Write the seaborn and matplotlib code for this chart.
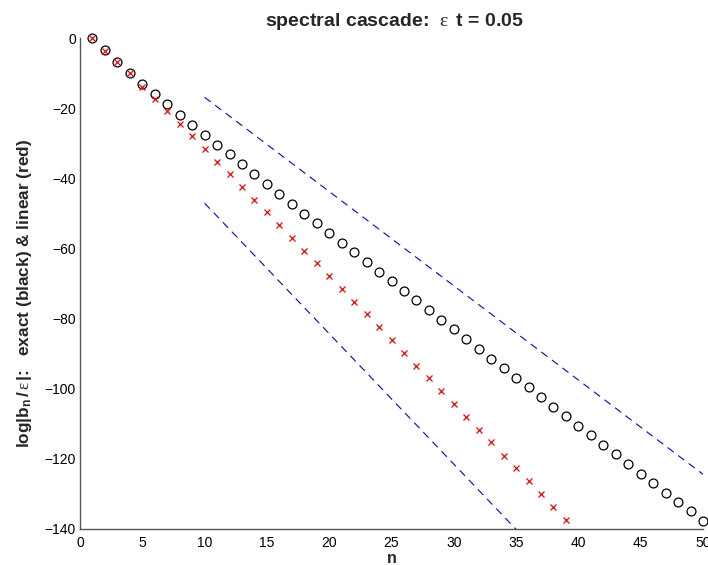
import numpy as np
import pandas as pd
import matplotlib
matplotlib.use("Agg")
import matplotlib.pyplot as plt
import seaborn as sns

# ---- data ----
n_exact = list(range(1, 51))
exact = [0.0, -3.5, -6.9, -10.1, -13.1, -16.1, -18.9, -21.9, -24.8, -27.6,
         -30.5, -33.2, -36.0, -38.8, -41.6, -44.5, -47.2, -50.1, -52.8, -55.6,
         -58.4, -61.1, -63.9, -66.6, -69.4, -72.1, -74.8, -77.6, -80.4, -83.1,
         -85.9, -88.7, -91.4, -94.1, -96.9, -99.6, -102.3, -105.1, -107.8, -110.5,
         -113.2, -116.0, -118.6, -121.5, -124.2, -127.0, -129.6, -132.3, -135.0, -137.7]

n_linear = list(range(1, 40))
linear = [0.0, -3.6, -6.9, -10.1, -13.9, -17.5, -20.9, -24.5, -28.0, -31.7,
          -35.4, -38.8, -42.5, -46.1, -49.7, -53.4, -56.9, -60.6, -64.2, -67.8,
          -71.6, -75.2, -78.8, -82.5, -86.1, -89.8, -93.4, -97.0, -100.7, -104.4,
          -108.1, -111.7, -115.3, -119.1, -122.7, -126.3, -130.0, -133.6, -137.3]

bound_n = [10, 50]
upper_bound = [-16.9, -124.4]
lower_bound = [-47.1, -195.9]

x_ticks = [0, 5, 10, 15, 20, 25, 30, 35, 40, 45, 50]
y_ticks = [0, -20, -40, -60, -80, -100, -120, -140]

# ---- style ----
sns.set_style("white")
plt.rcParams["font.family"] = ["Liberation Sans", "DejaVu Sans"]
plt.rcParams["mathtext.fontset"] = "custom"
plt.rcParams["mathtext.rm"] = "Liberation Serif"
plt.rcParams["mathtext.bf"] = "Liberation Sans:bold"
plt.rcParams["mathtext.it"] = "Liberation Serif:italic"
plt.rcParams["axes.unicode_minus"] = True
plt.rcParams["lines.scale_dashes"] = False

fig = plt.figure(figsize=(7.08, 5.65), dpi=100)
ax = fig.add_axes([80 / 708, 1 - 529 / 565, 623 / 708, (529 - 38) / 565])

sns.lineplot(x=bound_n, y=upper_bound, ax=ax, color="#0000ff", linewidth=0.8,
             linestyle="--")
sns.lineplot(x=bound_n, y=lower_bound, ax=ax, color="#0000ff", linewidth=0.8,
             linestyle="--")
for ln in ax.lines:
    ln.set_dashes([5.5, 4.0])

sns.lineplot(x=n_exact, y=exact, ax=ax, linestyle="", marker="o",
             markersize=6.4, markerfacecolor="none", markeredgecolor="black",
             markeredgewidth=0.9, color="black", clip_on=False)
sns.lineplot(x=n_linear, y=linear, ax=ax, linestyle="", marker="x",
             markersize=4.6, markeredgecolor="#ff0000", markeredgewidth=0.9,
             color="#ff0000", clip_on=False)

ax.set_xlim(0, 50)
ax.set_ylim(-140, 0)
ax.set_xticks(x_ticks)
ax.set_yticks(y_ticks)
ax.tick_params(direction="in", length=5, width=0.8, color="#333333",
               labelsize=10, labelcolor="black")
ax.tick_params(axis="x", pad=5)
ax.tick_params(axis="y", pad=3)

for s in ["top", "right"]:
    ax.spines[s].set_visible(False)
for s in ["left", "bottom"]:
    ax.spines[s].set_color("#555555")
    ax.spines[s].set_linewidth(1.0)

ax.set_xlabel("n", fontsize=11.5, fontweight="bold", labelpad=1)
ax.set_ylabel(r"log|b$_{\mathbf{n}}\,$/$\,\mathrm{\varepsilon}\,$|:   exact (black) & linear (red)",
              fontsize=12.4, fontweight="bold")
ax.yaxis.set_label_coords(-0.074, (529 - 293) / 491)
ax.set_title(r"spectral cascade:  $\mathrm{\varepsilon}\,$ t = 0.05", fontsize=14,
             fontweight="bold", x=0.5 + (394 - (80 + 703) / 2) / 623, pad=9)

fig.savefig("out.png", dpi=100)
